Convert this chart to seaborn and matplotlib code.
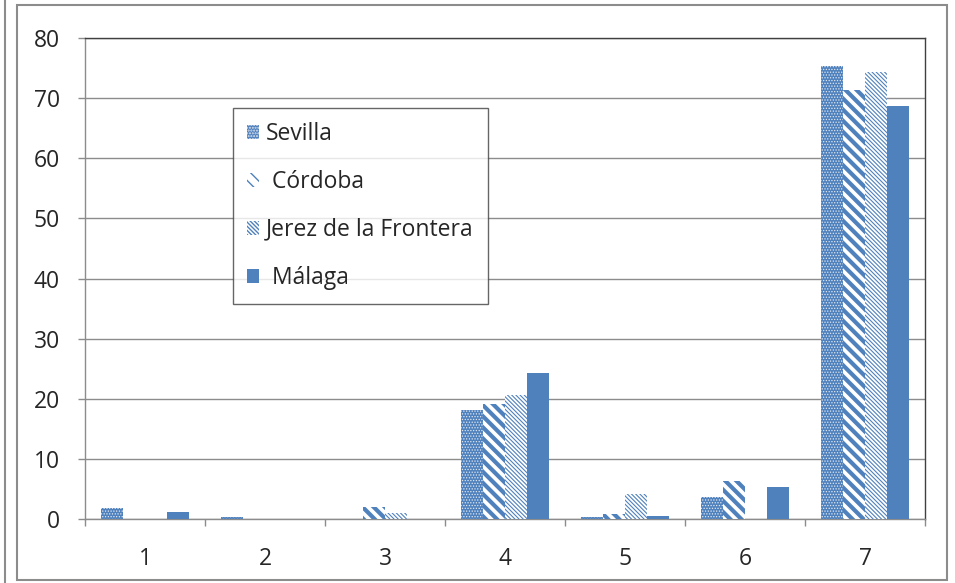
import matplotlib
matplotlib.use("Agg")
import matplotlib.pyplot as plt
from matplotlib.patches import Patch, Rectangle
from matplotlib.ticker import MultipleLocator, FixedLocator
import seaborn as sns
import pandas as pd

categories = ["1", "2", "3", "4", "5", "6", "7"]
cities = ["Sevilla", "Córdoba", "Jerez de la Frontera", "Málaga"]
sevilla = [1.8, 0.4, 0.0, 18.1, 0.4, 3.7, 75.4]
cordoba = [0.0, 0.0, 2.0, 19.2, 0.9, 6.3, 71.3]
jerez = [0.0, 0.0, 1.0, 20.6, 4.1, 0.0, 74.3]
malaga = [1.2, 0.0, 0.0, 24.2, 0.5, 5.3, 68.7]

BLUE = "#4F81BD"

rows = []
for city, vals in zip(cities, [sevilla, cordoba, jerez, malaga]):
    for cat, v in zip(categories, vals):
        rows.append({"cat": cat, "city": city, "value": v})
df = pd.DataFrame(rows)

sns.set_theme(style="white")
plt.rcParams["font.family"] = ["Open Sans", "DejaVu Sans"]
FS = 16.5

fig = plt.figure(figsize=(9.55, 5.83), dpi=100)
ax = fig.add_axes([85 / 955, 1 - 519 / 583, 840 / 955, 481 / 583])

sns.barplot(data=df, x="cat", y="value", hue="city", order=categories,
            hue_order=cities, palette=[BLUE] * 4, width=0.73, gap=0,
            ax=ax, legend=False, errorbar=None, zorder=3)

# fill style for each city: (face, hatch, hatch colour, hatch width)
styles = [
    (BLUE, "......", "#dfe7f2", 0.6),
    ("white", "\\\\\\", BLUE, 3.0),
    ("white", "\\\\\\\\\\\\\\\\", BLUE, 0.8),
    (BLUE, None, BLUE, 1.0),
]

for cont, (fc, hatch, hc, hlw) in zip(ax.containers, styles):
    for bar in cont:
        bar.set_facecolor(fc)
        bar.set_edgecolor(hc)
        bar.set_linewidth(0)
        if hatch:
            bar.set_hatch(hatch)
            if hasattr(bar, "set_hatch_linewidth"):
                bar.set_hatch_linewidth(hlw)

ax.set_ylim(0, 80)
ax.set_xlim(-0.5, len(categories) - 0.5)
ax.yaxis.set_major_locator(MultipleLocator(10))
ax.grid(axis="y", color="#8c8c8c", linewidth=1.0, zorder=0)
ax.set_axisbelow(True)
ax.set_xlabel("")
ax.set_ylabel("")

ax.set_xticks(range(len(categories)))
ax.set_xticklabels(categories)
ax.xaxis.set_minor_locator(FixedLocator([i - 0.5 for i in range(len(categories) + 1)]))
ax.tick_params(axis="x", which="major", length=0, pad=20, labelsize=FS, colors="#262626")
ax.tick_params(axis="x", which="minor", length=5, width=1, color="#8c8c8c", bottom=True)
ax.tick_params(axis="y", which="major", length=5, width=1, color="#8c8c8c", left=True,
               pad=13, labelsize=FS, labelcolor="#262626")

for side in ["left", "bottom"]:
    ax.spines[side].set_color("#8c8c8c")
    ax.spines[side].set_linewidth(1.0)
for side in ["top", "right"]:
    ax.spines[side].set_visible(True)
    ax.spines[side].set_color("#404040")
    ax.spines[side].set_linewidth(1.0)

handles = []
for fc, hatch, hc, hlw in styles:
    p = Patch(facecolor=fc, edgecolor=hc, linewidth=0, hatch=hatch)
    if hasattr(p, "set_hatch_linewidth"):
        p.set_hatch_linewidth(hlw)
    handles.append(p)

legend_labels = ["Sevilla", " Córdoba", "Jerez de la Frontera", " Málaga"]
leg = ax.legend(handles, legend_labels, loc="upper left",
                bbox_to_anchor=((233 - 85) / 840, (519 - 108) / 481),
                frameon=True, fancybox=False, fontsize=FS,
                handlelength=0.55, handleheight=0.55, handletextpad=0.3,
                labelspacing=1.05, borderpad=0.6, borderaxespad=0)
leg.get_frame().set_edgecolor("#404040")
leg.get_frame().set_linewidth(1.0)
for t in leg.get_texts():
    t.set_color("#262626")

# outer chart frame
fig.add_artist(Rectangle((17 / 955, 3 / 583), 930 / 955, 575 / 583,
                         transform=fig.transFigure, fill=False,
                         edgecolor="#8c8c8c", linewidth=1.5))
fig.add_artist(plt.Line2D([5 / 955, 5 / 955], [0, 1], transform=fig.transFigure,
                          color="#8c8c8c", linewidth=1.5))

fig.savefig("out.png", dpi=100)
